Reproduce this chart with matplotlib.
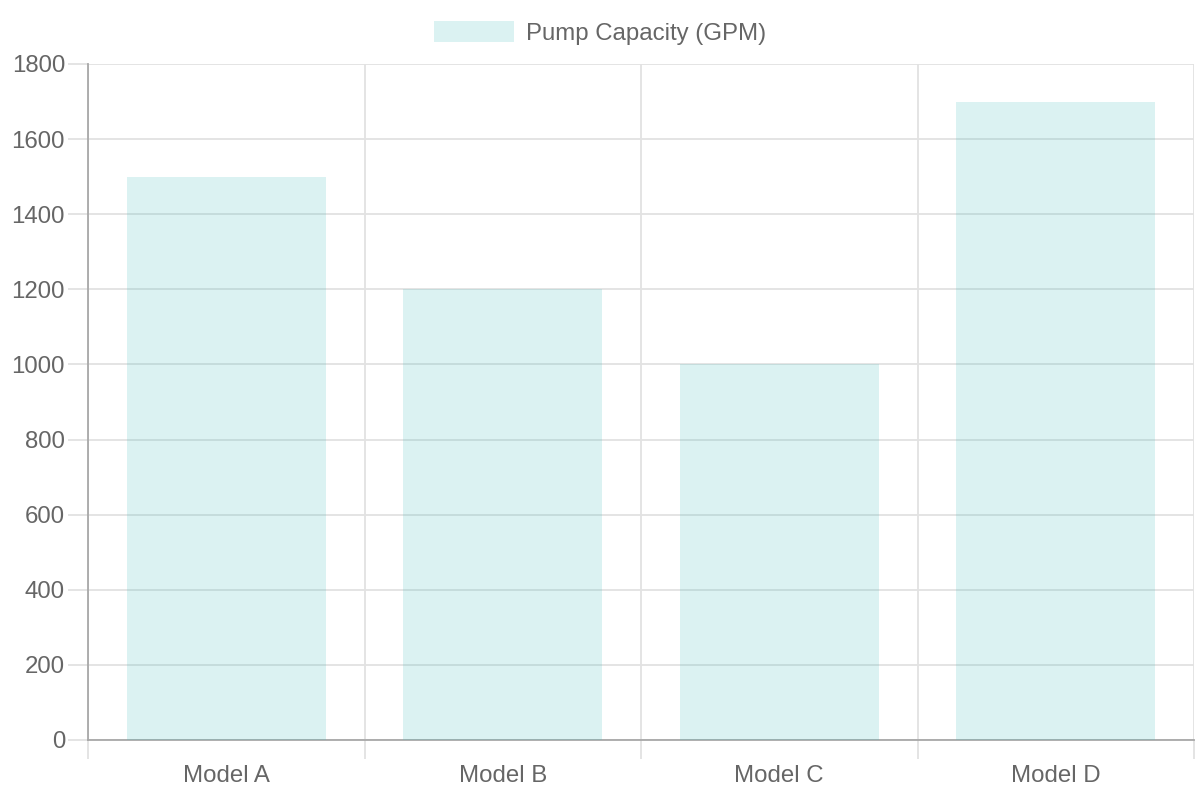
import numpy as np
import matplotlib.pyplot as plt
from matplotlib.ticker import FixedLocator

# data
models = ["Model A", "Model B", "Model C", "Model D"]
capacity = [1500, 1200, 1000, 1700]
series_name = "Pump Capacity (GPM)"

plt.rcParams["font.family"] = ["Liberation Sans", "DejaVu Sans"]

bar_color = (75/255, 192/255, 192/255, 0.2)
grid_color = "#e2e2e2"
text_color = "#666666"
fs = 17.3

fig = plt.figure(figsize=(12, 8), dpi=100)
ax = fig.add_axes([88/1200, 1 - 740/800, (1194 - 88)/1200, (740 - 64)/800])

x = np.arange(len(models))
ax.bar(x, capacity, width=0.72, color=bar_color, linewidth=0,
       zorder=3, label=series_name)

ax.set_xlim(-0.5, len(models) - 0.5)
ax.set_ylim(0, 1800)
ax.set_yticks(np.arange(0, 1801, 200))
ax.set_xticks(x)
ax.set_xticklabels(models)
ax.xaxis.set_minor_locator(FixedLocator(np.arange(-0.5, len(models), 1.0)))

ax.grid(axis="y", which="major", color=grid_color, linewidth=1.3, zorder=0)
ax.grid(axis="x", which="minor", color=grid_color, linewidth=1.3, zorder=0)
ax.set_axisbelow(True)

ax.tick_params(axis="y", which="major", length=14.5, width=1.3, color=grid_color,
               labelsize=fs, labelcolor=text_color, pad=2)
ax.tick_params(axis="x", which="major", length=0, labelsize=fs,
               labelcolor=text_color, pad=18)
ax.tick_params(axis="x", which="minor", length=14, width=1.3, color=grid_color)

for s in ["top", "right"]:
    ax.spines[s].set_visible(False)
for s in ["left", "bottom"]:
    ax.spines[s].set_color("#a8a8a8")
    ax.spines[s].set_linewidth(1.3)

leg = ax.legend(loc="upper center", bbox_to_anchor=(0.5, 0.9855),
                bbox_transform=fig.transFigure, frameon=False, fontsize=fs,
                handlelength=3.3, handleheight=0.96, handletextpad=0.5,
                borderaxespad=0)
for t in leg.get_texts():
    t.set_color(text_color)

fig.savefig("out.png", dpi=100)
